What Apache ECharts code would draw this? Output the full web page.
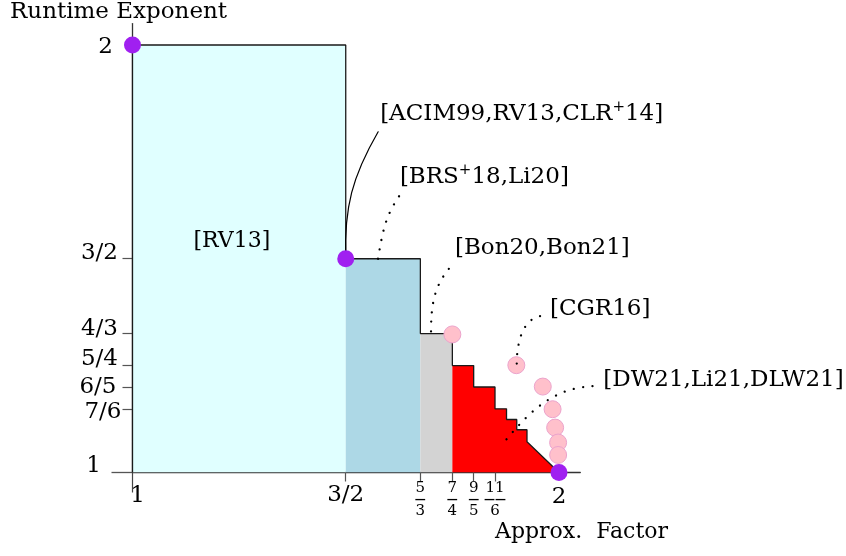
<!DOCTYPE html>
<html>
<head>
<meta charset="utf-8">
<script src="https://cdn.jsdelivr.net/npm/echarts@6/dist/echarts.min.js"></script>
<style>
html, body { margin: 0; padding: 0; background: #fff; }
#grafico { width: 846px; height: 556px; }
</style>
</head>
<body>
<div id="grafico"></div>
<script>
// Datos: frontera escalonada (factor de aproximación, exponente)
const escalonX = [1, 1.5, 1.675, 1.75, 1.8, 1.85, 1.877, 1.901, 1.925];
const escalonY = [2, 1.5, 1.325, 1.25, 1.2, 1.149, 1.124, 1.1, 1.072];
const puntoFinal = [2, 1];

// Puntos morados y rosados [CGR16]
const moradosX = [1, 1.5, 2];
const moradosY = [2, 1.5, 1];
const cgrX = [1.75, 1.9, 1.962, 1.985, 1.991, 1.998, 1.998];
const cgrY = [1.323, 1.251, 1.201, 1.148, 1.105, 1.07, 1.041];

// Ejes
const ticksX = [1, 1.5, 1.675, 1.75, 1.8, 1.85, 2];
const etiquetasX = ['1', '3/2', '5/3', '7/4', '9/5', '11/6', '2'];
const ticksY = [1, 1.149, 1.2, 1.25, 1.325, 1.5, 2];
const etiquetasY = ['1', '7/6', '6/5', '5/4', '4/3', '3/2', '2'];

// Referencias: texto, inicio y fin de la guía (unidades de los ejes)
const refTextos = ['[ACIM99,RV13,CLR{s|+}14]', '[BRS{s|+}18,Li20]', '[Bon20,Bon21]', '[CGR16]', '[DW21,Li21,DLW21]'];
const refInicioX = [1.5, 1.5756, 1.7, 1.901, 1.877];
const refInicioY = [1.5, 1.5, 1.33, 1.2547, 1.0777];
const refFinX = [1.576, 1.627, 1.756, 1.967, 2.092];
const refFinY = [1.797, 1.649, 1.492, 1.367, 1.2023];

const rv13X = 1.233;
const rv13Y = 1.54;

// Estilo de las guías (ángulos de salida/entrada, desplazamiento del texto)
const estiloRef = [
    { salida: 92, entrada: 240, punteada: false, dx: 2, dy: -18 },
    { salida: 80, entrada: 235, punteada: true, dx: 0, dy: -18 },
    { salida: 90, entrada: 225, punteada: true, dx: 0, dy: -14 },
    { salida: 90, entrada: 180, punteada: true, dx: 5, dy: -7 },
    { salida: 50, entrada: 180, punteada: true, dx: 5, dy: -6 }
];

const fuente = 'DejaVu Serif';
const coloresRegion = ['#E0FFFF', '#ADD8E6', '#D3D3D3'];

// Contorno completo de la escalera
function contornoEscalera() {
    const pts = [[escalonX[0], 1]];
    for (let i = 0; i < escalonX.length; i++) {
        pts.push([escalonX[i], escalonY[i]]);
        if (i + 1 < escalonX.length) pts.push([escalonX[i + 1], escalonY[i]]);
    }
    pts.push(puntoFinal);
    return pts;
}

// Zona roja: desde el cuarto escalón hasta el final
function zonaRoja() {
    const pts = [];
    for (let i = 3; i < escalonX.length; i++) {
        pts.push([escalonX[i], escalonY[i]]);
        if (i + 1 < escalonX.length) pts.push([escalonX[i + 1], escalonY[i]]);
    }
    pts.push(puntoFinal);
    return pts;
}

function serieArea(datos, color) {
    return {
        type: 'line',
        data: datos,
        showSymbol: false,
        silent: true,
        lineStyle: { width: 0 },
        areaStyle: { color: color, opacity: 1, origin: 'start' },
        z: 2
    };
}

function dibujarReferencia(params, api) {
    const i = params.dataIndex;
    const p0 = api.coord([api.value(0), api.value(1)]);
    const p1 = api.coord([api.value(2), api.value(3)]);
    const e = estiloRef[i];
    const d = Math.hypot(p1[0] - p0[0], p1[1] - p0[1]) * 0.3915;
    const a0 = e.salida * Math.PI / 180;
    const a1 = e.entrada * Math.PI / 180;
    return {
        type: 'group',
        children: [
            {
                type: 'bezierCurve',
                shape: {
                    x1: p0[0], y1: p0[1], x2: p1[0], y2: p1[1],
                    cpx1: p0[0] + d * Math.cos(a0), cpy1: p0[1] - d * Math.sin(a0),
                    cpx2: p1[0] + d * Math.cos(a1), cpy2: p1[1] - d * Math.sin(a1)
                },
                style: {
                    stroke: '#000', fill: null,
                    lineWidth: e.punteada ? 2.3 : 1.2,
                    lineDash: e.punteada ? [0.01, 9.5] : null,
                    lineCap: 'round'
                }
            },
            {
                type: 'text',
                x: p1[0] + e.dx,
                y: p1[1] + e.dy,
                style: {
                    text: refTextos[i],
                    fontFamily: fuente,
                    fontSize: 23,
                    lineHeight: 28,
                    fill: '#000',
                    align: 'left',
                    verticalAlign: 'middle',
                    rich: {
                        s: { fontFamily: fuente, fontSize: 15, lineHeight: 21, verticalAlign: 'top', fill: '#000' }
                    }
                }
            }
        ]
    };
}

const estilosY = {
    y0: { padding: [0, 20.5, 13, 0] },
    y1: { padding: [6, 0, 0, 0] },
    y2: { padding: [0, 5, 0, 0] },
    y3: { padding: [0, 3.5, 14, 0] },
    y4: { padding: [0, 3.5, 10, 0] },
    y5: { padding: [0, 3.5, 12, 0] },
    y6: { padding: [4, 8.5, 0, 0] }
};
Object.keys(estilosY).forEach(k => {
    Object.assign(estilosY[k], { fontFamily: fuente, fontSize: 23, lineHeight: 24, color: '#000' });
});

const estilosX = {
    xn: { fontFamily: fuente, fontSize: 23, lineHeight: 30, color: '#000' },
    x1: { fontFamily: fuente, fontSize: 23, lineHeight: 30, color: '#000', padding: [3, 0, 0, 10] },
    x2: { fontFamily: fuente, fontSize: 23, lineHeight: 30, color: '#000', padding: [5, 0, 0, 0] },
    n: { fontFamily: fuente, fontSize: 15, lineHeight: 17, color: '#000' },
    d: { fontFamily: fuente, fontSize: 15, lineHeight: 17, color: '#000' },
    b: { fontFamily: fuente, fontSize: 11, fontWeight: 'bold', lineHeight: 6, color: '#000' }
};

function etiquetaX(valor) {
    const i = ticksX.indexOf(valor);
    const t = etiquetasX[i];
    if (valor === 1) return '{x1|' + t + '}';
    if (valor === 2) return '{x2|' + t + '}';
    if (valor > 1.5 && valor < 2) {
        const partes = t.split('/');
        const barra = '\u2014'.repeat(partes[0].length);
        return '{n|' + partes[0] + '}\n{b|' + barra + '}\n{d|' + partes[1] + '}';
    }
    return '{xn|' + t + '}';
}

function etiquetaY(valor) {
    const i = ticksY.indexOf(valor);
    return '{y' + i + '|' + etiquetasY[i] + '}';
}

function crearGrafico() {
    const series = [];
    for (let r = 0; r < 3; r++) {
        series.push(serieArea([[escalonX[r], escalonY[r]], [escalonX[r + 1], escalonY[r]]], coloresRegion[r]));
    }
    series.push(serieArea(zonaRoja(), '#FF0000'));
    series.push({
        type: 'line',
        data: contornoEscalera(),
        showSymbol: false,
        silent: true,
        lineStyle: { color: '#1a1a1a', width: 1.3 },
        z: 3
    });
    series.push({
        type: 'scatter',
        data: cgrX.map((x, i) => [x, cgrY[i]]),
        symbolSize: 17,
        itemStyle: { color: '#FFC0CB', borderColor: '#EBA3CC', borderWidth: 1, opacity: 1 },
        z: 4
    });
    series.push({
        type: 'custom',
        coordinateSystem: 'cartesian2d',
        renderItem: dibujarReferencia,
        data: refInicioX.map((x, i) => [x, refInicioY[i], refFinX[i], refFinY[i]]),
        encode: { x: [0, 2], y: [1, 3] },
        clip: false,
        silent: true,
        z: 5
    });
    series.push({
        type: 'scatter',
        data: moradosX.map((x, i) => [x, moradosY[i]]),
        symbolSize: 17,
        itemStyle: { color: '#A020F0', opacity: 1 },
        z: 6
    });
    series.push({
        type: 'scatter',
        data: [[rv13X, rv13Y]],
        symbolSize: 0,
        silent: true,
        itemStyle: { opacity: 1 },
        label: {
            show: true,
            position: 'inside',
            formatter: '[RV13]',
            fontFamily: fuente,
            fontSize: 22,
            color: '#000',
            textBorderWidth: 0
        },
        z: 6
    });

    return {
        animation: false,
        grid: {
            left: 132.5, right: 265.7, top: 23.6, bottom: 83.5,
            containLabel: false, outerBoundsMode: 'none'
        },
        xAxis: [
            {
                type: 'value', min: 1, max: 2.05,
                splitLine: { show: false },
                axisLine: { show: true, onZero: false, lineStyle: { color: '#333', width: 1.3 } },
                axisTick: { show: true, customValues: ticksX.slice(1, 6), length: 9, lineStyle: { color: '#555', width: 1.2 } },
                axisLabel: {
                    customValues: ticksX, margin: 7.5, verticalAlign: 'top', align: 'center',
                    formatter: etiquetaX, rich: estilosX
                }
            },
            {
                type: 'value', min: 1, max: 2.05, position: 'bottom',
                axisLine: { show: false },
                splitLine: { show: false },
                axisTick: { show: true, customValues: [1], length: 20, lineStyle: { color: '#444', width: 1.2 } },
                axisLabel: { show: false }
            }
        ],
        yAxis: [
            {
                type: 'value', min: 1, max: 2.05,
                splitLine: { show: false },
                axisLine: { show: true, onZero: false, lineStyle: { color: '#333', width: 1.3 } },
                axisTick: { show: true, customValues: ticksY.slice(1, 6), length: 10, lineStyle: { color: '#555', width: 1.2 } },
                axisLabel: {
                    customValues: ticksY, margin: 11, align: 'right', verticalAlign: 'middle',
                    formatter: etiquetaY, rich: estilosY
                }
            },
            {
                type: 'value', min: 1, max: 2.05, position: 'left',
                axisLine: { show: false },
                splitLine: { show: false },
                axisTick: { show: true, customValues: [1], length: 21, lineStyle: { color: '#555', width: 1.3 } },
                axisLabel: { show: false }
            }
        ],
        graphic: [
            {
                type: 'text', left: 10, top: 1,
                style: { text: 'Runtime Exponent', fontFamily: fuente, fontSize: 23, fill: '#000' }
            },
            {
                type: 'text', left: 495, top: 521,
                style: { text: 'Approx.  Factor', fontFamily: fuente, fontSize: 22, fill: '#000' }
            }
        ],
        series: series
    };
}

const myChart = echarts.init(document.getElementById('grafico'), null, { renderer: 'canvas' });
myChart.setOption(crearGrafico());
</script>
</body>
</html>
